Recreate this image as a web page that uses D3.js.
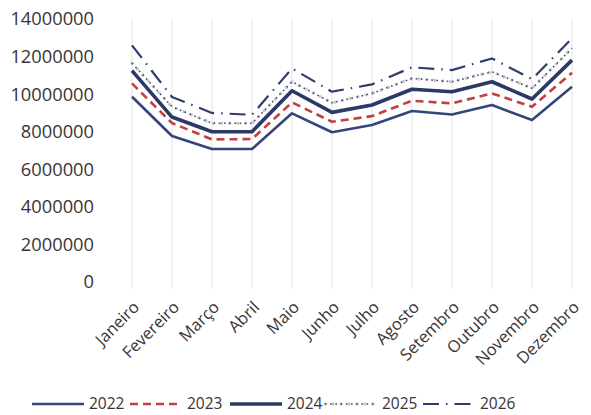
<!DOCTYPE html>
<html><head><meta charset="utf-8">
<script src="https://cdn.jsdelivr.net/npm/d3@7"></script>
<style>
html,body{margin:0;padding:0;background:#fff;}
text{font-family:"Open Sans","Lato",sans-serif;fill:#3a3434;}
</style></head>
<body><svg id="c" width="591" height="415"></svg>
<script>
const months = ["Janeiro","Fevereiro","Março","Abril","Maio","Junho","Julho","Agosto","Setembro","Outubro","Novembro","Dezembro"];
const yTicks = [0,2000000,4000000,6000000,8000000,10000000,12000000,14000000];
const v2022 = [9860000,7770000,7080000,7080000,8980000,7970000,8360000,9100000,8920000,9420000,8620000,10390000];
const v2023 = [10570000,8460000,7590000,7610000,9560000,8530000,8830000,9650000,9510000,10040000,9330000,11140000];
const v2024 = [11250000,8780000,8000000,8000000,10180000,9030000,9420000,10260000,10130000,10660000,9740000,11810000];
const v2025 = [11650000,9330000,8450000,8450000,10660000,9540000,10040000,10840000,10660000,11190000,10310000,12440000];
const v2026 = [12600000,9850000,9000000,8900000,11370000,10130000,10520000,11430000,11280000,11900000,10800000,12970000];
const seriesNames = ["2022","2023","2024","2025","2026"];

const series = [
  {name:seriesNames[0], values:v2022, layers:[{stroke:"#33457a", width:2.6, dash:null}]},
  {name:seriesNames[1], values:v2023, layers:[{stroke:"#c2403e", width:2.6, dash:"8,5"}]},
  {name:seriesNames[2], values:v2024, layers:[{stroke:"#2b3966", width:3.6, dash:null}]},
  {name:seriesNames[3], values:v2025, layers:[{stroke:"#c9c9c9", width:3.4, dash:"0,8", cap:"round"},{stroke:"#3e4c78", width:1.6, dash:"1.6,3.6"}]},
  {name:seriesNames[4], values:v2026, layers:[{stroke:"#2e3d6c", width:2.2, dash:"16,7,1.5,7"}]}
];

const svg = d3.select("#c");
const x = d3.scaleBand().domain(months).range([112,592]);
const y = d3.scaleLinear().domain([0,14000000]).range([282,19]);
const cx = m => x(m) + x.bandwidth()/2;

// vertical gridlines
svg.append("g").selectAll("line").data(months).join("line")
  .attr("x1",cx).attr("x2",cx).attr("y1",y(14000000)).attr("y2",289)
  .attr("stroke","#e8e8e8").attr("stroke-width",1.2);

// y axis labels
const ya = svg.append("g").attr("transform","translate(112,0)")
  .call(d3.axisLeft(y).tickValues(yTicks).tickFormat(d3.format("d")).tickSize(0).tickPadding(18));
ya.select(".domain").remove();
ya.selectAll("text").attr("font-size","18.3px").style("font-family","'Open Sans',sans-serif").attr("fill","#3a3434");

// x axis labels
const xa = svg.append("g").attr("transform","translate(0,300)")
  .call(d3.axisBottom(x).tickSize(0).tickPadding(0));
xa.select(".domain").remove();
xa.selectAll("text")
  .attr("font-size","16.5px").style("font-family","'Open Sans',sans-serif").attr("fill","#3a3434")
  .attr("text-anchor","end").attr("dy","0.35em").attr("y",6).attr("x",0)
  .attr("transform","rotate(-45)");

// lines
const line = d3.line().x((d,i)=>cx(months[i])).y(d=>y(d));
const g = svg.append("g");
series.forEach(s=>{
  s.layers.forEach(l=>{
    g.append("path").datum(s.values).attr("d",line)
      .attr("fill","none").attr("stroke",l.stroke).attr("stroke-width",l.width)
      .attr("stroke-dasharray",l.dash).attr("stroke-linecap",l.cap||"butt")
      .attr("stroke-linejoin","round");
  });
});

// legend
const legX = [32,130,230,325,423];
const leg = svg.append("g");
series.forEach((s,i)=>{
  const gi = leg.append("g").attr("transform",`translate(${legX[i]},404)`);
  s.layers.forEach(l=>{
    gi.append("line").attr("x1",0).attr("x2",52).attr("y1",0).attr("y2",0)
      .attr("stroke",l.stroke).attr("stroke-width",l.width)
      .attr("stroke-dasharray",l.dash).attr("stroke-linecap",l.cap||"butt");
  });
  gi.append("text").attr("x",57).attr("y",0).attr("dy","0.35em")
    .attr("font-size","15.5px").text(s.name);
});
</script></body></html>
